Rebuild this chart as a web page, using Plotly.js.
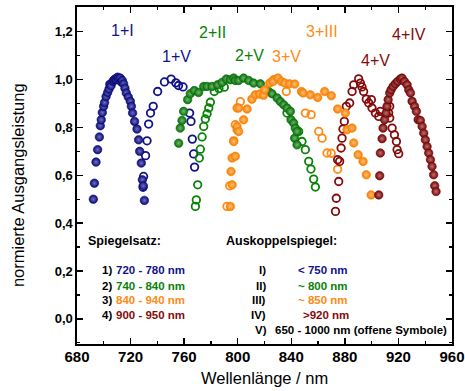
<!DOCTYPE html>
<html>
<head>
<meta charset="utf-8">
<script src="https://cdn.plot.ly/plotly-3.0.1.min.js"></script>
<style>
  html, body { margin: 0; padding: 0; background: #fff; }
  #chart { width: 465px; height: 391px; }
</style>
</head>
<body>
<div id="chart"></div>
<script>
// Mirror set 1 with output coupler I (filled) and V (open)
const s1I_x = [692.2, 693.0, 694.2, 695.4, 696.7, 697.4, 698.1, 698.9, 699.9, 700.6, 701.7, 702.9, 703.9, 704.5, 705.4, 706.9, 707.5, 708.4, 709.5, 710.3, 711.0, 712.3, 713.0, 713.8, 714.8, 715.8, 716.8, 718.3, 719.8, 720.6, 721.5, 723.0, 724.8, 726.0, 726.8, 728.0, 728.8, 729.5, 730.3];
const s1I_y = [0.500, 0.567, 0.655, 0.707, 0.760, 0.807, 0.832, 0.862, 0.888, 0.904, 0.929, 0.946, 0.960, 0.980, 0.974, 0.992, 0.998, 1.002, 1.000, 1.010, 1.005, 1.006, 0.990, 0.996, 0.982, 0.964, 0.944, 0.927, 0.909, 0.888, 0.860, 0.825, 0.793, 0.748, 0.700, 0.651, 0.581, 0.556, 0.495];
const s1V_x = [729.3, 729.7, 731.2, 732.3, 733.5, 734.9, 736.9, 740.2, 745.3, 750.3, 753.8, 755.8, 759.2, 764.1, 765.1, 766.1, 767.1, 767.8];
const s1V_y = [0.550, 0.595, 0.682, 0.744, 0.814, 0.860, 0.888, 0.950, 0.990, 1.002, 0.986, 0.975, 0.969, 0.860, 0.825, 0.751, 0.689, 0.634];

// Mirror set 2 with output coupler II (filled) and V (open)
const s2II_x = [755.9, 757.1, 758.4, 759.6, 762.6, 764.6, 767.6, 770.8, 774.6, 777.1, 780.8, 785.0, 788.3, 791.5, 794.5, 797.0, 798.2, 800.7, 804.4, 808.2, 811.9, 816.9, 823.1, 825.6, 829.4, 831.8, 834.3, 836.8, 839.3, 839.8, 841.8, 842.5, 843.0, 844.3, 844.3];
const s2II_y = [0.734, 0.797, 0.829, 0.867, 0.916, 0.941, 0.954, 0.946, 0.971, 0.971, 0.971, 0.978, 0.988, 1.002, 0.999, 1.006, 0.996, 0.996, 1.006, 0.996, 0.985, 0.982, 0.950, 0.941, 0.923, 0.908, 0.895, 0.881, 0.867, 0.832, 0.818, 0.755, 0.797, 0.783, 0.727];
const s2V_x = [768.4, 769.1, 770.1, 771.3, 772.1, 773.4, 774.6, 775.8, 777.1, 778.4, 779.6, 782.5, 786.0, 790.0, 836.8, 845.5, 848.0, 850.5, 853.0, 854.7, 856.7, 858.0];
const s2V_y = [0.470, 0.497, 0.560, 0.672, 0.709, 0.760, 0.804, 0.835, 0.857, 0.881, 0.905, 0.950, 0.962, 0.968, 0.860, 0.783, 0.741, 0.707, 0.658, 0.626, 0.584, 0.551];

// Mirror set 3 with output coupler III (filled) and V (open)
const s3III_x = [794.5, 795.0, 795.8, 795.8, 797.0, 798.2, 799.5, 799.5, 800.7, 800.7, 804.4, 807.0, 810.6, 813.1, 816.3, 819.3, 820.1, 823.9, 826.4, 830.1, 832.6, 835.1, 838.8, 842.6, 847.6, 848.8, 854.2, 859.7, 864.9, 869.9, 874.6, 880.4, 881.6, 885.4, 886.6, 889.9, 893.6, 896.0, 899.6];
const s3III_y = [0.470, 0.616, 0.560, 0.672, 0.741, 0.679, 0.790, 0.804, 0.783, 0.881, 0.832, 0.877, 0.918, 0.936, 0.939, 0.934, 0.957, 0.985, 0.992, 1.006, 0.992, 0.985, 0.982, 0.981, 0.950, 0.944, 0.936, 0.925, 0.950, 0.932, 0.877, 0.860, 0.790, 0.797, 0.735, 0.686, 0.658, 0.602, 0.518];
const s3V_x = [792.0, 794.0, 797.0, 798.2, 799.5, 802.0, 826.8, 836.3, 850.5, 854.8, 860.5, 863.0, 866.7, 869.8, 874.6];
const s3V_y = [0.470, 0.556, 0.744, 0.811, 0.881, 0.908, 0.999, 0.950, 0.860, 0.853, 0.783, 0.755, 0.693, 0.692, 0.625];

// Mirror set 4 with output coupler IV (filled) and V (open)
const s4IV_x = [905.3, 906.0, 906.5, 907.8, 908.5, 909.7, 910.8, 911.5, 912.3, 913.5, 914.5, 916.0, 917.7, 919.4, 921.4, 922.7, 924.5, 926.5, 927.7, 929.0, 930.2, 932.0, 933.4, 934.7, 936.4, 937.7, 938.9, 940.1, 941.4, 942.6, 943.9, 945.1, 946.3, 947.1, 948.1];
const s4IV_y = [0.518, 0.598, 0.693, 0.753, 0.797, 0.832, 0.860, 0.888, 0.916, 0.944, 0.957, 0.971, 0.982, 0.992, 1.002, 1.006, 0.992, 0.978, 0.957, 0.944, 0.909, 0.888, 0.867, 0.832, 0.829, 0.804, 0.776, 0.748, 0.720, 0.693, 0.665, 0.637, 0.602, 0.556, 0.532];
const s4V_x = [873.0, 873.6, 874.6, 875.4, 876.1, 877.2, 877.9, 878.6, 879.6, 881.1, 883.6, 885.4, 886.6, 890.3, 891.6, 892.8, 894.0, 896.0, 897.8, 899.8, 900.3, 902.8, 905.3, 906.5, 912.7, 913.5, 913.5, 915.3, 917.0, 918.5, 919.0, 920.2];
const s4V_y = [0.449, 0.504, 0.665, 0.574, 0.658, 0.714, 0.755, 0.793, 0.825, 0.888, 0.902, 0.950, 0.978, 1.003, 0.985, 0.969, 0.950, 0.918, 0.902, 0.916, 0.881, 0.860, 0.846, 0.867, 0.860, 0.888, 0.839, 0.797, 0.769, 0.741, 0.707, 0.690];

// Tick positions
const xTicks = [680, 720, 760, 800, 840, 880, 920, 960];
const yTicks = [0.0, 0.2, 0.4, 0.6, 0.8, 1.0, 1.2];

const NAVY = '#12128a';
const GREEN = '#0a820a';
const ORANGE = '#ff8a14';
const DRED = '#850b0b';
const FONT = 'Liberation Sans, Arial, Helvetica, sans-serif';

// Filled symbols get a soft radial highlight to look like small spheres
function filled(x, y, color, edge, light) {
  return {
    x: x, y: y, type: 'scatter', mode: 'markers', showlegend: false, hoverinfo: 'skip',
    marker: {
      symbol: 'circle', size: 8.5, color: edge,
      gradient: { type: 'radial', color: light },
      line: { width: 0.6, color: edge }
    }
  };
}
function open(x, y, color) {
  return {
    x: x, y: y, type: 'scatter', mode: 'markers', showlegend: false, hoverinfo: 'skip',
    marker: { symbol: 'circle-open', size: 7.5, color: color, line: { width: 1.8, color: color } }
  };
}

const traces = [
  open(s1V_x, s1V_y, NAVY),
  open(s2V_x, s2V_y, GREEN),
  open(s3V_x, s3V_y, ORANGE),
  open(s4V_x, s4V_y, DRED),
  filled(s1I_x, s1I_y, NAVY, '#0a0a78', '#7070c4'),
  filled(s2II_x, s2II_y, GREEN, '#066e06', '#70b870'),
  filled(s3III_x, s3III_y, ORANGE, '#f57f00', '#ffbe78'),
  filled(s4IV_x, s4IV_y, DRED, '#720606', '#c07070')
];

function lbl(text, x, y, color, size) {
  return { text: text, x: x, y: y, xref: 'x', yref: 'y', showarrow: false,
           xanchor: 'center', yanchor: 'middle', font: { family: FONT, size: size || 16, color: color } };
}
function info(text, x, y, color, anchor) {
  return { text: text, x: x, y: y, xref: 'x', yref: 'y', showarrow: false, borderpad: 0,
           xanchor: anchor, yanchor: 'middle', font: { family: FONT, size: 11.5, color: color, weight: 'bold' } };
}

const rowsY = [0.205, 0.139, 0.078, 0.017, -0.046];
const annotations = [
  lbl('1+I', 714.2, 1.204, NAVY),
  lbl('2+II', 781.0, 1.196, GREEN),
  lbl('3+III', 863.2, 1.200, ORANGE),
  lbl('4+IV', 928.2, 1.187, DRED),
  lbl('1+V', 754.2, 1.095, NAVY),
  lbl('2+V', 808.8, 1.100, GREEN),
  lbl('3+V', 836.7, 1.095, ORANGE),
  lbl('4+V', 902.8, 1.079, DRED),

  { text: 'Spiegelsatz:', x: 687.2, y: 0.326, xref: 'x', yref: 'y', showarrow: false, borderpad: 0,
    xanchor: 'left', yanchor: 'middle', font: { family: FONT, size: 12.5, color: '#000', weight: 'bold' } },
  { text: 'Auskoppelspiegel:', x: 790.3, y: 0.326, xref: 'x', yref: 'y', showarrow: false, borderpad: 0,
    xanchor: 'left', yanchor: 'middle', font: { family: FONT, size: 12.5, color: '#000', weight: 'bold' } },

  info('1)', 707.1, rowsY[0], '#000', 'right'),
  info('2)', 707.1, rowsY[1], '#000', 'right'),
  info('3)', 707.1, rowsY[2], '#000', 'right'),
  info('4)', 707.1, rowsY[3], '#000', 'right'),
  info('720 - 780 nm', 708.1, rowsY[0], NAVY, 'left'),
  info('740 - 840 nm', 708.1, rowsY[1], GREEN, 'left'),
  info('840 - 940 nm', 708.1, rowsY[2], ORANGE, 'left'),
  info('900 - 950 nm', 708.1, rowsY[3], DRED, 'left'),

  info('I)', 821.7, rowsY[0], '#000', 'right'),
  info('II)', 821.7, rowsY[1], '#000', 'right'),
  info('III)', 821.7, rowsY[2], '#000', 'right'),
  info('IV)', 821.7, rowsY[3], '#000', 'right'),
  info('V)', 822.9, rowsY[4], '#000', 'right'),
  info('< 750 nm', 883.2, rowsY[0], NAVY, 'right'),
  info('~ 800 nm', 883.2, rowsY[1], GREEN, 'right'),
  info('~ 850 nm', 883.2, rowsY[2], ORANGE, 'right'),
  info('>920 nm', 883.6, rowsY[3], DRED, 'right'),
  info('650 - 1000 nm (offene Symbole)', 827.4, rowsY[4], '#000', 'left'),

  { text: 'Wellenlänge / nm', x: 0.501, y: -0.101, xref: 'paper', yref: 'paper', showarrow: false,
    xanchor: 'center', yanchor: 'middle', font: { family: FONT, size: 16.5, color: '#000' } },
  { text: 'normierte Ausgangsleistung', x: -0.157, y: 0.472, xref: 'paper', yref: 'paper', showarrow: false,
    textangle: -90, xanchor: 'center', yanchor: 'middle', font: { family: FONT, size: 16.5, color: '#000' } }
];

const axisCommon = {
  showgrid: false, zeroline: false, showline: true, linecolor: '#000', linewidth: 1.6,
  mirror: 'ticks', ticks: 'inside', ticklen: 6, tickwidth: 1.3, tickcolor: '#000',
  fixedrange: true
};

const layout = {
  width: 465, height: 391,
  margin: { l: 77, r: 13, t: 7, b: 47 },
  paper_bgcolor: '#fff', plot_bgcolor: '#fff',
  separators: ',.',
  font: { family: FONT, color: '#000' },
  showlegend: false,
  xaxis: Object.assign({}, axisCommon, {
    range: [680, 960], tickmode: 'array', tickvals: xTicks, ticktext: xTicks.map(String),
    tickfont: { family: FONT, size: 15, color: '#000', weight: 'bold' },
    ticklabelstandoff: -2,
    minor: { ticks: 'inside', ticklen: 3, tickwidth: 1.2, tickcolor: '#000', dtick: 20, tick0: 680 }
  }),
  yaxis: Object.assign({}, axisCommon, {
    range: [-0.105, 1.303], tickmode: 'array', tickvals: yTicks,
    ticktext: yTicks.map(v => v.toFixed(1).replace('.', ',')),
    tickfont: { family: FONT, size: 13, color: '#000', weight: 'bold' },
    minor: { ticks: 'inside', ticklen: 3, tickwidth: 1.2, tickcolor: '#000', dtick: 0.1, tick0: 0 }
  }),
  annotations: annotations
};

Plotly.newPlot('chart', traces, layout, { staticPlot: true, displayModeBar: false });
</script>
</body>
</html>
